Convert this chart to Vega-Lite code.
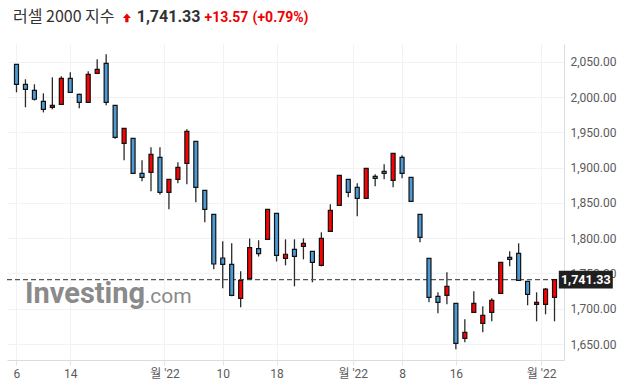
{
  "$schema": "https://vega.github.io/schema/vega-lite/v6.json",
  "width": 557,
  "height": 316,
  "autosize": {"type": "none"},
  "padding": {"left": 7, "top": 44, "right": 61, "bottom": 29},
  "background": "#ffffff",
  "config": {"view": {"stroke": null}},
  "datasets": {
    "candles": [
      {"d":"2022-04-06","t":0,"o":2046.3,"h":2046.5,"l":2006.6,"c":2018.0},
      {"d":"2022-04-07","t":1,"o":2018.0,"h":2025.1,"l":1985.4,"c":2010.9},
      {"d":"2022-04-08","t":2,"o":2009.5,"h":2018.0,"l":1995.0,"c":1996.8},
      {"d":"2022-04-11","t":3,"o":1993.9,"h":2005.2,"l":1978.2,"c":1982.6},
      {"d":"2022-04-12","t":4,"o":1985.4,"h":2027.9,"l":1982.6,"c":1988.2},
      {"d":"2022-04-13","t":5,"o":1989.6,"h":2029.3,"l":1989.0,"c":2026.5},
      {"d":"2022-04-14","t":6,"o":2026.5,"h":2035.0,"l":2006.0,"c":2006.6},
      {"d":"2022-04-18","t":7,"o":2003.8,"h":2004.5,"l":1984.0,"c":1992.5},
      {"d":"2022-04-19","t":8,"o":1992.5,"h":2036.4,"l":1992.0,"c":2032.1},
      {"d":"2022-04-20","t":9,"o":2033.6,"h":2053.4,"l":2033.0,"c":2039.2},
      {"d":"2022-04-21","t":10,"o":2047.7,"h":2060.5,"l":1988.2,"c":1992.5},
      {"d":"2022-04-22","t":11,"o":1988.2,"h":1988.5,"l":1940.9,"c":1942.9},
      {"d":"2022-04-25","t":12,"o":1934.4,"h":1956.0,"l":1910.3,"c":1955.6},
      {"d":"2022-04-26","t":13,"o":1941.5,"h":1942.0,"l":1891.0,"c":1891.9},
      {"d":"2022-04-27","t":14,"o":1891.9,"h":1910.3,"l":1880.5,"c":1886.2},
      {"d":"2022-04-28","t":15,"o":1893.3,"h":1928.7,"l":1866.4,"c":1918.8},
      {"d":"2022-04-29","t":16,"o":1914.6,"h":1928.7,"l":1862.0,"c":1865.0},
      {"d":"2022-05-02","t":17,"o":1865.0,"h":1884.0,"l":1841.0,"c":1883.4},
      {"d":"2022-05-03","t":18,"o":1883.4,"h":1907.5,"l":1877.7,"c":1900.4},
      {"d":"2022-05-04","t":19,"o":1906.0,"h":1954.2,"l":1876.3,"c":1951.4},
      {"d":"2022-05-05","t":20,"o":1937.2,"h":1937.5,"l":1850.8,"c":1872.0},
      {"d":"2022-05-06","t":21,"o":1867.8,"h":1868.0,"l":1822.5,"c":1840.9},
      {"d":"2022-05-09","t":22,"o":1833.8,"h":1834.0,"l":1755.9,"c":1763.4},
      {"d":"2022-05-10","t":23,"o":1771.9,"h":1795.5,"l":1728.9,"c":1763.0},
      {"d":"2022-05-11","t":24,"o":1763.0,"h":1792.7,"l":1717.6,"c":1719.0},
      {"d":"2022-05-12","t":25,"o":1714.8,"h":1753.0,"l":1702.0,"c":1740.3},
      {"d":"2022-05-13","t":26,"o":1742.8,"h":1799.5,"l":1742.0,"c":1786.7},
      {"d":"2022-05-16","t":27,"o":1785.3,"h":1797.0,"l":1774.0,"c":1778.2},
      {"d":"2022-05-17","t":28,"o":1798.4,"h":1841.0,"l":1798.0,"c":1840.9},
      {"d":"2022-05-18","t":29,"o":1835.2,"h":1835.5,"l":1767.0,"c":1775.7},
      {"d":"2022-05-19","t":30,"o":1771.5,"h":1798.4,"l":1761.5,"c":1777.2},
      {"d":"2022-05-20","t":31,"o":1784.2,"h":1798.4,"l":1731.8,"c":1774.3},
      {"d":"2022-05-23","t":32,"o":1788.4,"h":1799.8,"l":1770.0,"c":1792.7},
      {"d":"2022-05-24","t":33,"o":1781.4,"h":1781.5,"l":1737.5,"c":1765.8},
      {"d":"2022-05-25","t":34,"o":1761.5,"h":1808.3,"l":1760.0,"c":1799.8},
      {"d":"2022-05-26","t":35,"o":1809.7,"h":1848.0,"l":1809.0,"c":1839.5},
      {"d":"2022-05-27","t":36,"o":1846.5,"h":1889.0,"l":1846.0,"c":1889.0},
      {"d":"2022-05-31","t":37,"o":1883.4,"h":1883.5,"l":1857.9,"c":1865.0},
      {"d":"2022-06-01","t":38,"o":1872.1,"h":1877.7,"l":1831.0,"c":1856.5},
      {"d":"2022-06-02","t":39,"o":1856.5,"h":1899.0,"l":1856.0,"c":1899.0},
      {"d":"2022-06-03","t":40,"o":1887.6,"h":1890.4,"l":1873.5,"c":1884.8},
      {"d":"2022-06-06","t":41,"o":1894.7,"h":1904.6,"l":1883.4,"c":1891.9},
      {"d":"2022-06-07","t":42,"o":1881.9,"h":1920.5,"l":1872.1,"c":1920.2},
      {"d":"2022-06-08","t":43,"o":1914.6,"h":1917.4,"l":1884.8,"c":1891.9},
      {"d":"2022-06-09","t":44,"o":1886.2,"h":1886.5,"l":1852.0,"c":1852.2},
      {"d":"2022-06-10","t":45,"o":1833.8,"h":1834.0,"l":1794.1,"c":1801.2},
      {"d":"2022-06-13","t":46,"o":1771.5,"h":1772.0,"l":1709.1,"c":1716.2},
      {"d":"2022-06-14","t":47,"o":1717.6,"h":1723.3,"l":1693.5,"c":1709.1},
      {"d":"2022-06-15","t":48,"o":1719.0,"h":1751.6,"l":1706.3,"c":1731.8},
      {"d":"2022-06-16","t":49,"o":1707.7,"h":1708.0,"l":1642.5,"c":1651.0},
      {"d":"2022-06-17","t":50,"o":1658.0,"h":1685.0,"l":1652.4,"c":1666.5},
      {"d":"2022-06-21","t":51,"o":1694.9,"h":1724.7,"l":1694.0,"c":1707.7},
      {"d":"2022-06-22","t":52,"o":1679.3,"h":1703.5,"l":1666.6,"c":1690.7},
      {"d":"2022-06-23","t":53,"o":1694.9,"h":1714.8,"l":1682.2,"c":1711.9},
      {"d":"2022-06-24","t":54,"o":1721.9,"h":1766.0,"l":1721.5,"c":1765.8},
      {"d":"2022-06-27","t":55,"o":1772.9,"h":1781.4,"l":1760.1,"c":1770.1},
      {"d":"2022-06-28","t":56,"o":1778.6,"h":1792.7,"l":1740.0,"c":1740.3},
      {"d":"2022-06-29","t":57,"o":1738.9,"h":1739.0,"l":1704.9,"c":1720.4},
      {"d":"2022-06-30","t":58,"o":1706.3,"h":1723.3,"l":1682.2,"c":1709.1},
      {"d":"2022-07-01","t":59,"o":1706.3,"h":1729.5,"l":1692.1,"c":1727.8},
      {"d":"2022-07-05","t":60,"o":1716.2,"h":1742.0,"l":1682.2,"c":1741.33}
    ],
    "last": [{"name": "러셀 2000 지수", "last": 1741.33, "label": "1,741.33", "change": "+13.57", "pct": "(+0.79%)"}],
    "brand": [{"brand": "Investing", "dom": ".com"}]
  },
  "encoding": {
    "x": {"type": "quantitative",
      "scale": {"domain": [-0.5, 60.5], "nice": false, "zero": false},
      "axis": {"title": null, "values": [0, 6, 16.5, 23, 29, 37.5, 43, 49, 58.5],
        "labelExpr": "datum.value == 0 ? '6' : datum.value == 6 ? '14' : datum.value == 23 ? '10' : datum.value == 29 ? '18' : datum.value == 43 ? '8' : datum.value == 49 ? '16' : '월 \\'22'",
        "labelFont": "Roboto, Noto Sans CJK KR", "labelFontSize": 12, "labelColor": "#5a5a5a",
        "domainColor": "#dcdcdc", "tickColor": "#e4e4e4", "tickSize": 5, "labelPadding": 3,
        "gridColor": "#f2f2f3", "grid": true, "labelFlush": false, "labelOverlap": false}
    },
    "y": {"type": "quantitative",
      "scale": {"domain": [1627.4, 2075.1], "nice": false, "zero": false},
      "axis": {"title": null, "orient": "right", "values": [1650, 1700, 1750, 1800, 1850, 1900, 1950, 2000, 2050],
        "format": ",.2f", "labelFont": "Roboto", "labelFontSize": 12, "labelColor": "#5a5a5a",
        "domainColor": "#dcdcdc", "ticks": false, "labelPadding": 6, "gridColor": "#f2f2f3", "labelFlush": false, "labelOverlap": false}
    }
  },
  "layer": [
    {
      "data": {"name": "candles"},
      "mark": {"type": "rule", "color": "#2b2b2b", "strokeWidth": 1.3},
      "encoding": {"x": {"field": "t"}, "y": {"field": "l"}, "y2": {"field": "h"}}
    },
    {
      "data": {"name": "last"},
      "mark": {"type": "rule", "color": "#555555", "strokeWidth": 1.2, "strokeDash": [5, 3]},
      "encoding": {"x": null, "y": {"field": "last"}}
    },
    {
      "data": {"name": "candles"},
      "mark": {"type": "bar", "size": 4, "stroke": "#111111", "strokeWidth": 1.2},
      "encoding": {
        "x": {"field": "t"},
        "y": {"field": "o"},
        "y2": {"field": "c"},
        "color": {"condition": {"test": "datum.c >= datum.o", "value": "#ff0000"}, "value": "#4c9bd6"}
      }
    },
    {
      "data": {"name": "last"},
      "mark": {"type": "point", "shape": "M-1,-0.326H1V0.326H-1Z", "size": 2916, "filled": true, "color": "#1f1f1f", "opacity": 1},
      "encoding": {"x": {"datum": 63.49}, "y": {"field": "last"}}
    },
    {
      "data": {"name": "last"},
      "mark": {"type": "text", "font": "Roboto", "fontSize": 12.5, "fontWeight": "bold", "color": "#ffffff", "align": "center", "baseline": "middle"},
      "encoding": {"x": {"datum": 63.49}, "y": {"field": "last"}, "text": {"field": "label"}}
    },
    {
      "data": {"name": "last"},
      "mark": {"type": "text", "font": "Noto Sans CJK KR", "fontSize": 16, "fontWeight": "normal", "color": "#333333", "align": "left", "baseline": "alphabetic"},
      "encoding": {"x": {"datum": -0.39}, "y": {"datum": 2106.3}, "text": {"field": "name"}}
    },
    {
      "data": {"name": "last"},
      "mark": {"type": "point", "shape": "M0,-1.2L1,-0.1L0.4,-0.1L0.4,1L-0.4,1L-0.4,-0.1L-1,-0.1Z", "size": 64, "filled": true, "color": "#ee0000", "opacity": 1},
      "encoding": {"x": {"datum": 12.31}, "y": {"datum": 2111.5}}
    },
    {
      "data": {"name": "last"},
      "mark": {"type": "text", "font": "Roboto", "fontSize": 16, "fontWeight": "bold", "color": "#333333", "align": "left", "baseline": "alphabetic"},
      "encoding": {"x": {"datum": 13.41}, "y": {"datum": 2106.3}, "text": {"field": "label"}}
    },
    {
      "data": {"name": "last"},
      "mark": {"type": "text", "font": "Roboto", "fontSize": 14, "fontWeight": "bold", "color": "#ee0000", "align": "left", "baseline": "alphabetic"},
      "encoding": {"x": {"datum": 20.97}, "y": {"datum": 2106.3}, "text": {"field": "change"}}
    },
    {
      "data": {"name": "last"},
      "mark": {"type": "text", "font": "Roboto", "fontSize": 14, "fontWeight": "bold", "color": "#ee0000", "align": "left", "baseline": "alphabetic"},
      "encoding": {"x": {"datum": 26.33}, "y": {"datum": 2106.3}, "text": {"field": "pct"}}
    },
    {
      "data": {"name": "brand"},
      "mark": {"type": "text", "font": "Roboto", "fontSize": 29, "fontWeight": "bold", "color": "#8a8a8a", "align": "left", "baseline": "alphabetic"},
      "encoding": {"x": {"datum": 0.95}, "y": {"datum": 1707.7}, "text": {"field": "brand"}}
    },
    {
      "data": {"name": "brand"},
      "mark": {"type": "text", "font": "Roboto", "fontSize": 21, "fontWeight": "normal", "color": "#8a8a8a", "align": "left", "baseline": "alphabetic"},
      "encoding": {"x": {"datum": 14.3}, "y": {"datum": 1707.7}, "text": {"field": "dom"}}
    }
  ]
}
